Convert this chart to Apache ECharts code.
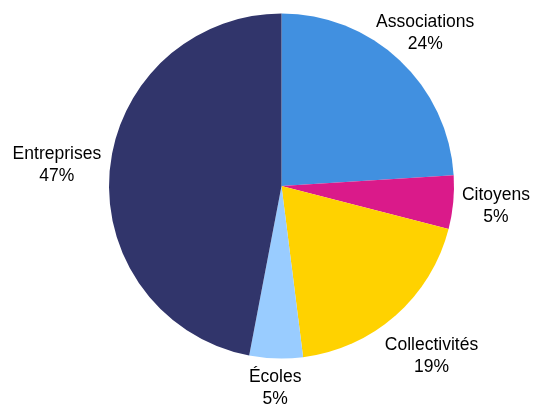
<!DOCTYPE html>
<html>
<head>
<meta charset="utf-8">
<script src="https://cdn.jsdelivr.net/npm/echarts@6/dist/echarts.min.js"></script>
<style>html,body{margin:0;padding:0;background:#fff;}#c{width:534px;height:406px;}</style>
</head>
<body>
<div id="c"></div>
<script>
var categories = ['Associations', 'Citoyens', 'Collectivités', 'Écoles', 'Entreprises'];
var values = [24, 5, 19, 5, 47];
var colors = ['#4190E0', '#DA1A8A', '#FFD200', '#99CCFF', '#31356B'];

var CX = 281.5, CY = 186, R = 172.5, GAP = 7, TOP_LIMIT = 11;
var total = values.reduce(function (a, b) { return a + b; }, 0);
var mids = [];
(function () {
  var acc = 0;
  for (var i = 0; i < values.length; i++) {
    mids.push((acc + values[i] / 2) / total * 2 * Math.PI);
    acc += values[i];
  }
})();

var chart = echarts.init(document.getElementById('c'));
chart.setOption({
  backgroundColor: '#fff',
  animation: false,
  series: [{
    type: 'pie',
    center: [CX, CY],
    radius: R,
    startAngle: 90,
    clockwise: true,
    avoidLabelOverlap: false,
    data: categories.map(function (n, i) {
      return { name: n, value: values[i], itemStyle: { color: colors[i] } };
    }),
    label: {
      show: true,
      position: 'outside',
      formatter: '{b}\n{d}%',
      fontFamily: 'Liberation Sans, Arial, sans-serif',
      fontSize: 17.5,
      lineHeight: 22,
      color: '#000',
      overflow: 'none'
    },
    labelLine: { show: false },
    labelLayout: function (p) {
      var a = mids[p.dataIndex];
      var ux = Math.sin(a), uy = -Math.cos(a);
      var w = p.labelRect.width, h = p.labelRect.height;
      var d = R + GAP + Math.abs(ux) * w / 2 + Math.abs(uy) * h / 2;
      var x = CX + ux * d, y = CY + uy * d;
      if (y - h / 2 < TOP_LIMIT && uy < 0) {
        y = TOP_LIMIT + h / 2;
        d = (y - CY) / uy;
        x = CX + ux * d;
      }
      return { x: x, y: y, align: 'center', verticalAlign: 'middle' };
    }
  }]
});
</script>
</body>
</html>
